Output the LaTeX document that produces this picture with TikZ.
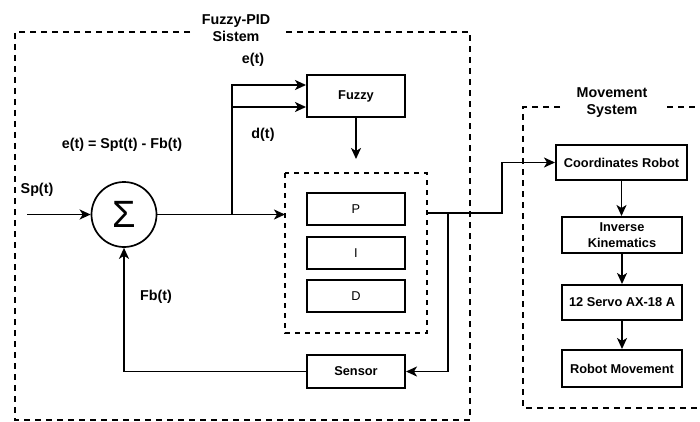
\documentclass[tikz,border=0pt]{standalone}
\usepackage{fontspec}
\setmainfont{Liberation Sans}
\usetikzlibrary{arrows.meta,calc}
\begin{document}
\begin{tikzpicture}[x=1pt,y=-1pt,
  line width=1.8pt,
  arr/.style={-{Stealth[length=11pt,width=10pt,inset=3pt]}},
  blk/.style={draw,line width=2pt,inner sep=0pt,font=\fontsize{12.8}{16}\selectfont\bfseries,align=center},
  pidblk/.style={draw,line width=1.5pt,inner sep=0pt,font=\fontsize{12.8}{16}\selectfont},
  lbl/.style={font=\fontsize{14.3}{17}\selectfont\bfseries,align=center,inner sep=0pt},
  grp/.style={line width=1.6pt,dash pattern=on 6pt off 5pt},
  gdp/.style={line width=1.6pt,dash pattern=on 5pt off 5pt}]
\useasboundingbox (0,0) rectangle (700,422);
% group frames
\draw[grp] (190,32) -- (15,32) -- (15,420) -- (470,420) -- (470,32) -- (285,32);
\node[lbl] (tpid) at (236,28) {Fuzzy-PID\\Sistem};
\draw[grp] (560,107) -- (523,107) -- (523,408) -- (705,408);
\draw[grp] (667,107) -- (705,107);
\node[lbl] (tmov) at (612,103) {Movement\\System};
\draw[gdp] (285,173) rectangle (427,333);
\coordinate (pidw) at (285,253);
\coordinate (pide) at (427,213);
% blocks
\node[blk,minimum width=98pt,minimum height=42pt] (fuzzy) at (356,96) {Fuzzy};
\node[pidblk,minimum width=98pt,minimum height=32pt] (p) at (356,209) {P};
\node[pidblk,minimum width=98pt,minimum height=32pt] (i) at (356,253) {I};
\node[pidblk,minimum width=98pt,minimum height=32pt] (d) at (356,296) {D};
\node[blk,minimum width=98pt,minimum height=33pt] (sensor) at (356,371.5) {Sensor};
\node[draw,circle,line width=1.7pt,minimum size=65pt,inner sep=0pt,font=\fontsize{38}{38}\selectfont] (sum) at (124,214.5) {\raisebox{-1pt}{Σ}};
\node[blk,minimum width=131pt,minimum height=35pt] (cr) at (621.5,162.5) {Coordinates Robot};
\node[blk,minimum width=120pt,minimum height=36pt] (ik) at (622,235) {Inverse\\Kinematics};
\node[blk,minimum width=120pt,minimum height=35pt] (sv) at (622,302.5) {12 Servo AX-18 A};
\node[blk,minimum width=120pt,minimum height=37pt] (rm) at (622,368.5) {Robot Movement};
% labels
\node[lbl] (le) at (253,60) {e(t)};
\node[lbl] (ld) at (263,135) {d(t)};
\node[lbl] (leq) at (122,145) {e(t) = Spt(t) - Fb(t)};
\node[lbl] (lsp) at (37,190) {Sp(t)};
\node[lbl] (lfb) at (156,297) {Fb(t)};
% connectors
\coordinate (in) at (27,214.5);
\draw[arr] (in) -- (sum.west);
\draw[arr] (sum.east) -- (sum.east -| pidw);
\coordinate (j1) at (232,214.5);
\coordinate (f1) at ($(fuzzy.west)+(0,-11)$);
\coordinate (f2) at ($(fuzzy.west)+(0,11)$);
\draw[arr] (j1) |- (f1);
\draw[arr] (j1 |- f2) -- (f2);
\coordinate (fz) at (356,159);
\draw[arr] (fuzzy.south) -- (fz);
\coordinate (bend) at (502,213);
\coordinate (br) at (448,213);
\draw[arr] (pide) -- (bend) |- (cr.west);
\draw[arr] (br) |- (sensor.east);
\draw[arr] (sensor.west) -| (sum.south);
\draw[arr] (cr.south) -- (cr.south |- ik.north);
\draw[arr] (ik.south) -- (sv.north);
\draw[arr] (sv.south) -- (rm.north);
\end{tikzpicture}
\end{document}
